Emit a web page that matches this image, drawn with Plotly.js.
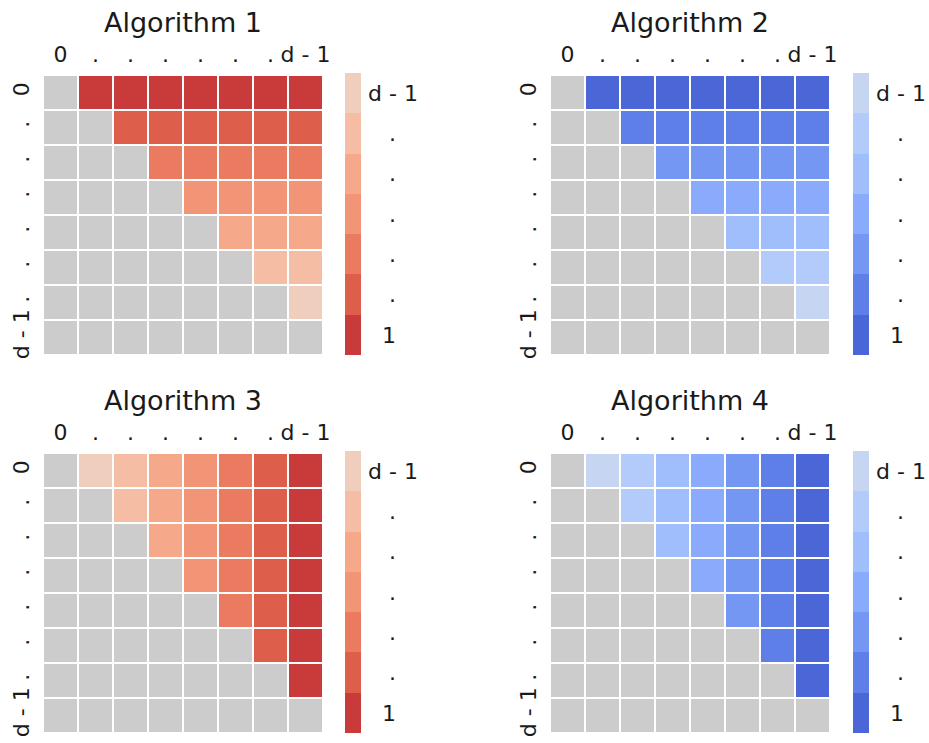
<!DOCTYPE html>
<html>
<head>
<meta charset="utf-8">
<script src="https://cdn.plot.ly/plotly-3.0.1.min.js"></script>
<style>
  html, body { margin: 0; padding: 0; background: #fff; }
  #chart { width: 929px; height: 743px; }
</style>
</head>
<body>
<div id="chart"></div>
<script>
// Step index (1 .. d-1) at which each upper-triangle entry (i, j), j > i, is handled.
// null marks the diagonal and lower triangle, which are drawn grey.
var n = null;

var algorithm1 = [
  [n, 1, 1, 1, 1, 1, 1, 1],
  [n, n, 2, 2, 2, 2, 2, 2],
  [n, n, n, 3, 3, 3, 3, 3],
  [n, n, n, n, 4, 4, 4, 4],
  [n, n, n, n, n, 5, 5, 5],
  [n, n, n, n, n, n, 6, 6],
  [n, n, n, n, n, n, n, 7],
  [n, n, n, n, n, n, n, n]
];

var algorithm2 = [
  [n, 1, 1, 1, 1, 1, 1, 1],
  [n, n, 2, 2, 2, 2, 2, 2],
  [n, n, n, 3, 3, 3, 3, 3],
  [n, n, n, n, 4, 4, 4, 4],
  [n, n, n, n, n, 5, 5, 5],
  [n, n, n, n, n, n, 6, 6],
  [n, n, n, n, n, n, n, 7],
  [n, n, n, n, n, n, n, n]
];

var algorithm3 = [
  [n, 7, 6, 5, 4, 3, 2, 1],
  [n, n, 6, 5, 4, 3, 2, 1],
  [n, n, n, 5, 4, 3, 2, 1],
  [n, n, n, n, 4, 3, 2, 1],
  [n, n, n, n, n, 3, 2, 1],
  [n, n, n, n, n, n, 2, 1],
  [n, n, n, n, n, n, n, 1],
  [n, n, n, n, n, n, n, n]
];

var algorithm4 = [
  [n, 7, 6, 5, 4, 3, 2, 1],
  [n, n, 6, 5, 4, 3, 2, 1],
  [n, n, n, 5, 4, 3, 2, 1],
  [n, n, n, n, 4, 3, 2, 1],
  [n, n, n, n, n, 3, 2, 1],
  [n, n, n, n, n, n, 2, 1],
  [n, n, n, n, n, n, n, 1],
  [n, n, n, n, n, n, n, n]
];

var titles = ["Algorithm 1", "Algorithm 2", "Algorithm 3", "Algorithm 4"];

// Matrix index positions and their labels
var indexVals = [0, 1, 2, 3, 4, 5, 6, 7];
var indexText = ["0", ".", ".", ".", ".", ".", ".", "d - 1"];

// Colour-bar levels 1 .. d-1
var levelVals = [1, 2, 3, 4, 5, 6, 7];
var NB = "\u00a0", HS = "\u200a";
var levelText = [NB + NB + HS + "1", NB + NB + NB + HS + ".", NB + NB + NB + HS + ".",
                 NB + NB + NB + HS + ".", NB + NB + NB + HS + ".", NB + NB + NB + HS + ".", HS + "d - 1"];

// Discrete palettes, from level 1 (strong) to level d-1 (pale)
var reds  = ["#c93b3a", "#dd5e4b", "#ea7b61", "#f29476", "#f6a98a", "#f5bea4", "#efcebd"];
var blues = ["#4b66d6", "#5f7fe8", "#7497f3", "#8aabfc", "#a0bdfc", "#b3cbfa", "#c6d5f1"];
var grey = "#cccccc";

function stepScale(cols) {
  var cs = [];
  for (var k = 0; k < cols.length; k++) {
    cs.push([k / cols.length, cols[k]]);
    cs.push([(k + 1) / cols.length, cols[k]]);
  }
  return cs;
}

function maskOf(z) {
  return z.map(function (row) { return row.map(function (v) { return v === null ? 1 : null; }); });
}

var W = 929, H = 743;
// Panel frames in pixels
var panels = [
  { left: 43, top: 75, cbLeft: 345, data: algorithm1, cols: reds },
  { left: 550, top: 75, cbLeft: 853, data: algorithm2, cols: blues },
  { left: 43, top: 453, cbLeft: 345, data: algorithm3, cols: reds },
  { left: 550, top: 453, cbLeft: 853, data: algorithm4, cols: blues }
];
var SIZE = 280;

var font = { family: "DejaVu Sans, sans-serif", color: "#1a1a1a" };
var tickSize = 22;
var traces = [];
var layout = {
  width: W, height: H,
  margin: { l: 0, r: 0, t: 0, b: 0 },
  paper_bgcolor: "#ffffff",
  plot_bgcolor: "#ffffff",
  showlegend: false,
  font: { family: font.family, color: font.color, size: tickSize },
  annotations: []
};

panels.forEach(function (p, idx) {
  var s = idx === 0 ? "" : String(idx + 1);
  var xa = "x" + s, ya = "y" + s;

  traces.push({
    type: "heatmap", z: maskOf(p.data), x: indexVals, y: indexVals,
    xaxis: xa, yaxis: ya,
    colorscale: [[0, grey], [1, grey]], zmin: 0, zmax: 1,
    showscale: false, xgap: 2, ygap: 2, hoverinfo: "skip"
  });

  traces.push({
    type: "heatmap", z: p.data, x: indexVals, y: indexVals,
    xaxis: xa, yaxis: ya,
    colorscale: stepScale(p.cols), zmin: 0.5, zmax: 7.5,
    xgap: 2, ygap: 2,
    colorbar: {
      x: p.cbLeft / W, xanchor: "left", xref: "paper",
      y: 1 - (p.top - 1 + SIZE / 2) / H, yanchor: "middle", yref: "paper",
      thickness: 16, thicknessmode: "pixels",
      len: 282, lenmode: "pixels",
      xpad: 0, ypad: 0, outlinewidth: 0,
      tickmode: "array", tickvals: levelVals, ticktext: levelText,
      ticks: "", ticklen: 0,
      tickfont: { family: font.family, color: font.color, size: tickSize }
    }
  });

  layout["xaxis" + s] = {
    domain: [p.left / W, (p.left + SIZE) / W],
    anchor: ya, side: "top", range: [-0.5, 7.5],
    tickmode: "array", tickvals: indexVals, ticktext: indexText,
    showgrid: false, zeroline: false, showline: false, ticks: "",
    tickangle: 0, ticklabelstandoff: 8,
    tickfont: { family: font.family, color: font.color, size: tickSize }
  };
  layout["yaxis" + s] = {
    domain: [1 - (p.top + SIZE) / H, 1 - p.top / H],
    anchor: xa, range: [7.5, -0.5],
    tickmode: "array", tickvals: indexVals, ticktext: indexText,
    showgrid: false, zeroline: false, showline: false, ticks: "",
    tickangle: -90, ticklabelstandoff: 9,
    tickfont: { family: font.family, color: font.color, size: tickSize }
  };

  layout.annotations.push({
    text: titles[idx], xref: "paper", yref: "paper",
    x: (p.left + SIZE / 2) / W, y: 1 - (p.top - 53) / H,
    xanchor: "center", yanchor: "middle", showarrow: false,
    font: { family: font.family, color: font.color, size: 27 }
  });
});

Plotly.newPlot("chart", traces, layout, { displayModeBar: false, staticPlot: true });
</script>
</body>
</html>
